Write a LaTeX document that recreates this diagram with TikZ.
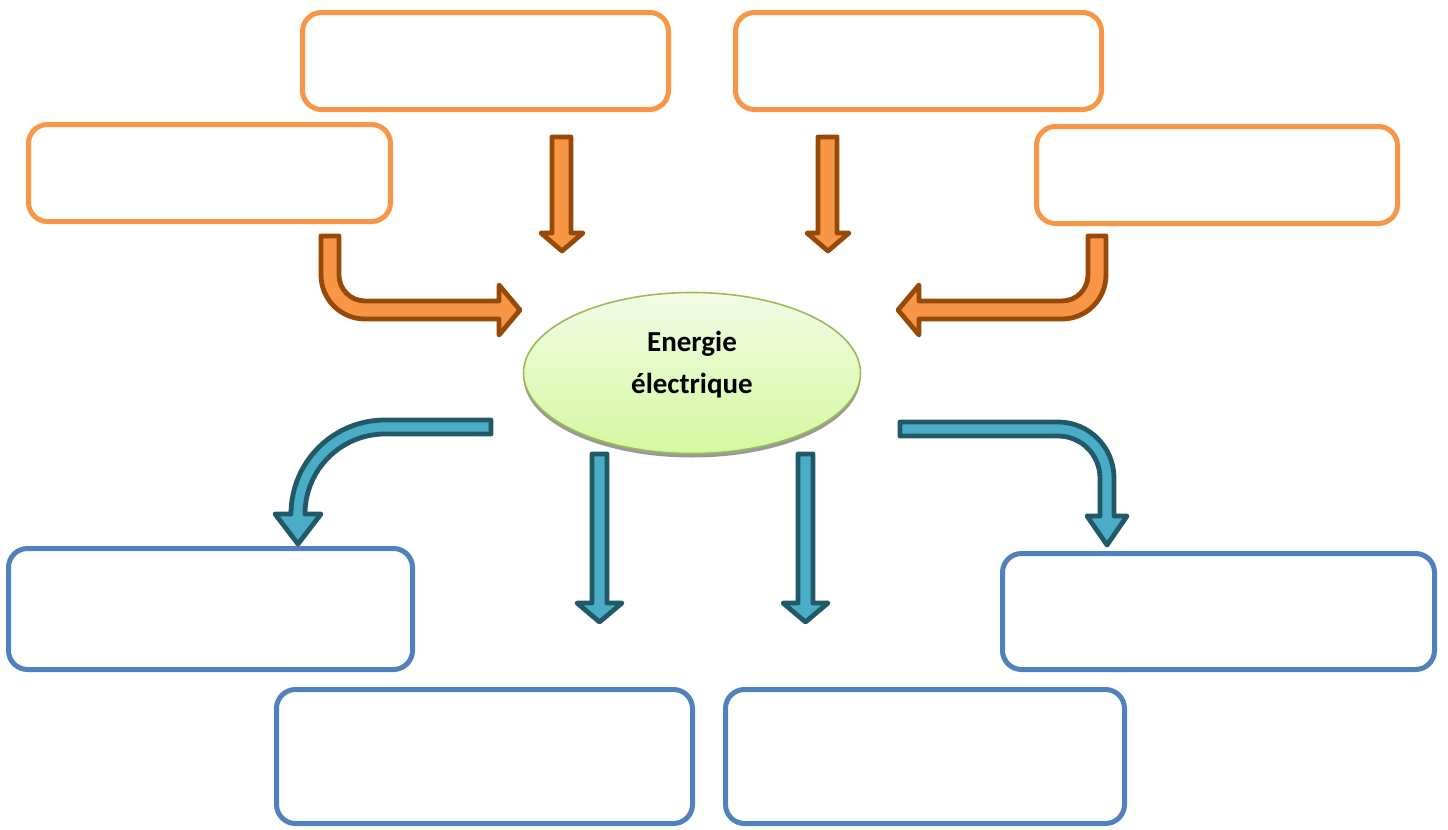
\documentclass[tikz,border=0pt]{standalone}
\usepackage{fontspec}
\setmainfont{Carlito}
\usetikzlibrary{shapes.geometric}
\definecolor{orangefill}{HTML}{F79646}
\definecolor{orangeedge}{HTML}{984807}
\definecolor{tealfill}{HTML}{4BACC6}
\definecolor{tealedge}{HTML}{215968}
\definecolor{boxblue}{HTML}{4F81BD}
\definecolor{leafedge}{HTML}{9BBB59}
\definecolor{leaftop}{HTML}{F3FBE6}
\definecolor{leafbottom}{HTML}{D4F9A0}
\begin{document}
\begin{tikzpicture}[x=0.5pt,y=-0.5pt,
  box/.style={rectangle, rounded corners=9.5pt, line width=2.5pt, fill=white, inner sep=0pt},
  obox/.style={box, draw=orangefill},
  bbox/.style={box, draw=boxblue},
  blockarrow/.style={line width=2.4pt, line join=round},
  oarrow/.style={blockarrow, fill=orangefill, draw=orangeedge},
  barrow/.style={blockarrow, fill=tealfill, draw=tealedge},
  label/.style={font=\bfseries\fontsize{14.5}{21}\selectfont, align=center, inner sep=0pt}
]
\useasboundingbox (0,0) rectangle (1448,830);

% source boxes (orange)
\node[obox, minimum width=183pt, minimum height=48.5pt] (src1) at (485.5,61) {};
\node[obox, minimum width=183pt, minimum height=48.5pt] (src2) at (918.5,61) {};
\node[obox, minimum width=181pt, minimum height=48.5pt] (src3) at (209.5,173) {};
\node[obox, minimum width=180.5pt, minimum height=48.5pt] (src4) at (1217,175) {};

% target boxes (blue)
\node[bbox, minimum width=202pt, minimum height=60.5pt] (dst1) at (210.5,609) {};
\node[bbox, minimum width=216pt, minimum height=58pt] (dst2) at (1218.5,611.5) {};
\node[bbox, minimum width=208pt, minimum height=67pt] (dst3) at (484.5,756.5) {};
\node[bbox, minimum width=199.5pt, minimum height=67pt] (dst4) at (925,756.5) {};

% incoming straight arrows
\draw[oarrow] (552,137) -- (571,137) -- (571,233) -- (583,233) -- (562,251)
  -- (541,233) -- (552,233) -- cycle;
\draw[oarrow] (818,137) -- (837,137) -- (837,233) -- (849,233) -- (828,251)
  -- (807,233) -- (818,233) -- cycle;

% incoming bent arrows
\draw[oarrow] (321,236) -- (321,275) arc[start angle=180, end angle=90, radius=44]
  -- (499,319) -- (499,335) -- (520,310) -- (499,285) -- (499,301) -- (365,301)
  arc[start angle=90, end angle=180, radius=26] -- (339,236) -- cycle;
\draw[oarrow] (1106,236) -- (1106,275) arc[start angle=0, end angle=90, radius=44]
  -- (919,319) -- (919,335) -- (898,310) -- (919,285) -- (919,301) -- (1062,301)
  arc[start angle=90, end angle=0, radius=26] -- (1088,236) -- cycle;

% outgoing straight arrows
\draw[barrow] (592,454) -- (607,454) -- (607,603) -- (622,603) -- (599.5,622)
  -- (577,603) -- (592,603) -- cycle;
\draw[barrow] (798,454) -- (813,454) -- (813,603) -- (828,603) -- (805.5,622)
  -- (783,603) -- (798,603) -- cycle;

% outgoing curved arrows
\draw[barrow] (491,420) -- (385,420) arc[start angle=270, end angle=180, radius=94]
  -- (275,514) -- (298,544) -- (321,514) -- (305,514)
  arc[start angle=180, end angle=270, radius=80] -- (491,434) -- cycle;
\draw[barrow] (900,422) -- (1058,422) arc[start angle=270, end angle=360, radius=56]
  -- (1114,516) -- (1127,516) -- (1107,545) -- (1087,516) -- (1100,516) -- (1100,478)
  arc[start angle=360, end angle=270, radius=42] -- (900,436) -- cycle;

% central ellipse
\node[ellipse, minimum width=168.5pt, minimum height=80.5pt, fill=black!40, inner sep=0pt]
  (coreshadow) at (692,377) {};
\node[ellipse, minimum width=168.5pt, minimum height=80.5pt, draw=leafedge, line width=0.8pt,
  top color=leaftop, bottom color=leafbottom, inner sep=0pt] (core) at (692,373) {};
\node[label] (corelabel) at (692,365) {Energie\\électrique};
\end{tikzpicture}
\end{document}
